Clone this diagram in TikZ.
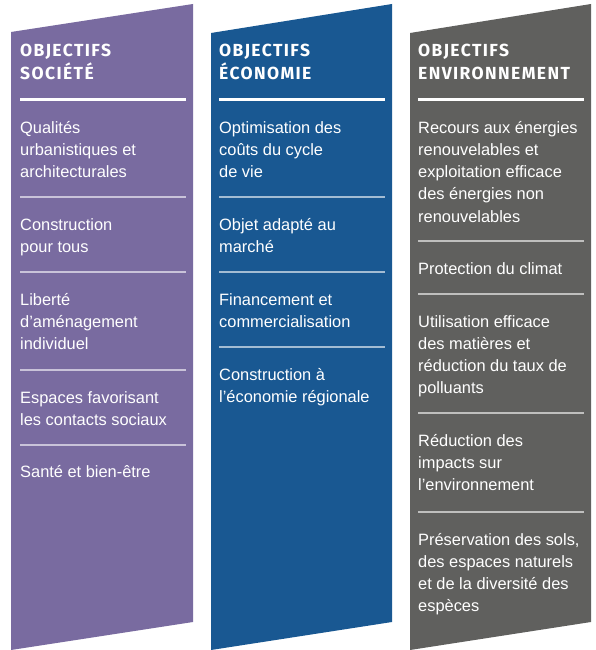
\documentclass[tikz,border=0pt]{standalone}
\usepackage{fontspec}
\setmainfont{Liberation Sans}
\newfontfamily\hdrfont{Fira Sans}[LetterSpace=8]
\definecolor{colpurple}{HTML}{796BA0}
\definecolor{colblue}{HTML}{195892}
\definecolor{colgray}{HTML}{60605E}
\tikzset{
  hdr/.style={anchor=base west,inner sep=0pt,text=white,font=\hdrfont\bfseries\fontsize{17.5}{23}\selectfont},
  item/.style={anchor=base west,inner sep=0pt,text=white,font=\fontsize{16.4}{22.3}\selectfont},
  hrule/.style={white,line width=3pt},
  seprule/.style={white,opacity=0.6,line width=1.3pt}
}
% #1 name, #2 x, #3 first baseline, #4 list of lines
\newcommand{\itemlines}[4]{%
  \foreach \ltxt [count=\li from 0] in {#4}
    \node[item] (#1-\li) at (#2,{#3+\li*22.3}) {\ltxt};}
\begin{document}
\begin{tikzpicture}[x=1pt,y=-1pt]
\useasboundingbox (0,0) rectangle (596,650);
% columns
\fill[colpurple] (11,32) -- (193,4) -- (193,622) -- (11,650) -- cycle;
\fill[colblue] (211,33) -- (392,4) -- (392,622) -- (211,650) -- cycle;
\fill[colgray] (410,33) -- (591,4) -- (591,622) -- (410,650) -- cycle;
% headers
\node[hdr] (h1a) at (20,57) {OBJECTIFS};
\node[hdr] (h1b) at (20,80) {SOCIÉTÉ};
\node[hdr] (h2a) at (219,57) {OBJECTIFS};
\node[hdr] (h2b) at (219,80) {ÉCONOMIE};
\node[hdr] (h3a) at (418,57) {OBJECTIFS};
\node[hdr] (h3b) at (418,80) {ENVIRONNEMENT};
\draw[hrule] (20,100) -- (186,100);
\draw[hrule] (219,100) -- (385,100);
\draw[hrule] (418,100) -- (584,100);
% purple column
\itemlines{p1}{20}{133}{Qualités,urbanistiques et,architecturales}
\draw[seprule] (20,197) -- (186,197);
\itemlines{p2}{20}{230}{Construction,pour tous}
\draw[seprule] (20,272) -- (186,272);
\itemlines{p3}{20}{305}{Liberté,d'aménagement,individuel}
\draw[seprule] (20,370) -- (186,370);
\itemlines{p4}{20}{403}{Espaces favorisant,les contacts sociaux}
\draw[seprule] (20,445) -- (186,445);
\itemlines{p5}{20}{477}{Santé et bien-être}
% blue column
\itemlines{b1}{219}{133}{Optimisation des,coûts du cycle,de vie}
\draw[seprule] (219,197) -- (385,197);
\itemlines{b2}{219}{230}{Objet adapté au,marché}
\draw[seprule] (219,272) -- (385,272);
\itemlines{b3}{219}{305}{Financement et,commercialisation}
\draw[seprule] (219,347) -- (385,347);
\itemlines{b4}{219}{380}{Construction à,l'économie régionale}
% gray column
\itemlines{g1}{418}{133}{Recours aux énergies,renouvelables et,exploitation efficace,des énergies non,renouvelables}
\draw[seprule] (418,241) -- (584,241);
\itemlines{g2}{418}{274}{Protection du climat}
\draw[seprule] (418,294) -- (584,294);
\itemlines{g3}{418}{327}{Utilisation efficace,des matières et,réduction du taux de,polluants}
\draw[seprule] (418,413) -- (584,413);
\itemlines{g4}{418}{446}{Réduction des,impacts sur,l'environnement}
\draw[seprule] (418,512) -- (584,512);
\itemlines{g5}{418}{545}{{Préservation des sols,},des espaces naturels,et de la diversité des,espèces}
\end{tikzpicture}
\end{document}
